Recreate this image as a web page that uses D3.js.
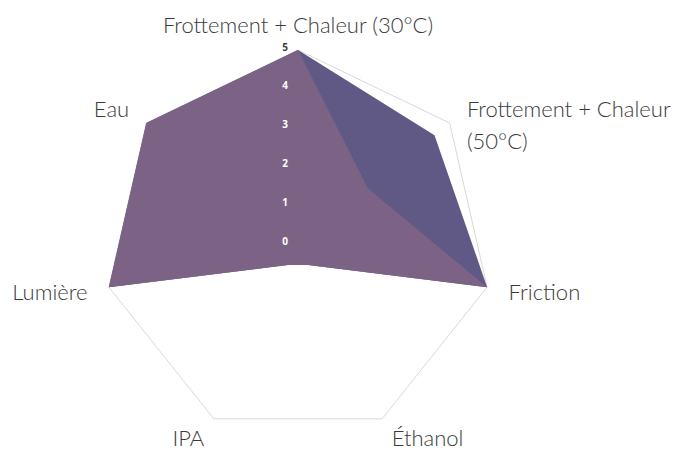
<!DOCTYPE html>
<html>
<head>
<meta charset="utf-8">
<script src="https://cdn.jsdelivr.net/npm/d3@7"></script>
<style>
  body { margin: 0; background: #fff; }
  svg { display: block; }
</style>
</head>
<body>
<div id="chart"></div>
<script>
// Radar chart: two filled series on seven axes, scale 0-5

// Data
var categories = ["Frottement + Chaleur (30°C)", "Frottement + Chaleur (50°C)", "Friction", "Éthanol", "IPA", "Lumière", "Eau"];
var seriesNames = ["Série 1", "Série 2"];
var seriesBlue = [5, 4.5, 5, 0.6, 0.6, 5, 5];
var seriesPurple = [5, 2.3, 5, 0.6, 0.6, 5, 5];
var tickValues = [0, 1, 2, 3, 4, 5];

// Colors
var colors = ["#605985", "#7c6385"];

var width = 690, height = 462;
var cx = 298, cy = 244, radius = 194;

var svg = d3.select("#chart").append("svg")
    .attr("width", width)
    .attr("height", height)
    .append("g")
    .attr("transform", "translate(" + cx + "," + cy + ")");

// Scales
var r = d3.scaleLinear().domain([0, 5]).range([0, radius]);
var angle = d3.scalePoint()
    .domain(categories)
    .range([0, 2 * Math.PI * (categories.length - 1) / categories.length]);

function point(cat, v) {
    var a = angle(cat) - Math.PI / 2;
    return [Math.cos(a) * r(v), Math.sin(a) * r(v)];
}

var radarLine = d3.line().curve(d3.curveLinearClosed);

// Outer gridline only
svg.append("path")
    .attr("d", radarLine(categories.map(function (c) { return point(c, 5); })))
    .attr("fill", "none")
    .attr("stroke", "#d9d9d9")
    .attr("stroke-width", 1);

// Series areas
var series = [seriesBlue, seriesPurple];
svg.selectAll(".area")
    .data(series)
    .enter().append("path")
    .attr("class", "area")
    .attr("d", function (d) {
        return radarLine(categories.map(function (c, i) { return point(c, d[i]); }));
    })
    .attr("fill", function (d, i) { return colors[i]; })
    .attr("stroke", "none");

// Tick labels along the top axis
svg.selectAll(".tick-label")
    .data(tickValues)
    .enter().append("text")
    .attr("class", "tick-label")
    .attr("x", -13)
    .attr("y", function (d) { return -r(d) - 3; })
    .attr("dy", "0.35em")
    .attr("text-anchor", "middle")
    .attr("font-family", "'Open Sans', sans-serif")
    .attr("font-weight", "bold")
    .attr("font-size", "10px")
    .attr("fill", function (d) { return d === 5 ? "#404040" : "#ffffff"; })
    .text(function (d) { return d; });

// Category labels
var pad = 22;
var labels = svg.selectAll(".cat-label")
    .data(categories)
    .enter().append("text")
    .attr("class", "cat-label")
    .attr("font-family", "Lato, sans-serif")
    .attr("font-weight", 300)
    .attr("font-size", "22px")
    .attr("fill", "#3a3a3a")
    .attr("text-anchor", function (c) {
        var cos = Math.cos(angle(c) - Math.PI / 2);
        return Math.abs(cos) < 0.05 ? "middle" : (cos > 0 ? "start" : "end");
    })
    .attr("transform", function (c) {
        var a = angle(c) - Math.PI / 2;
        var extra = Math.abs(Math.cos(a)) < 0.05 ? 3 : 0; // top label sits a bit higher
        return "translate(" + Math.cos(a) * (radius + pad + extra) + "," + Math.sin(a) * (radius + pad + extra) + ")";
    });

labels.each(function (c) {
    var t = d3.select(this);
    // the upper right label wraps onto two lines
    var lines = (c === "Frottement + Chaleur (50°C)") ? ["Frottement + Chaleur", "(50°C)"] : [c];
    lines.forEach(function (l, i) {
        t.append("tspan")
            .attr("x", 0)
            .attr("dy", i === 0 ? "0.35em" : "1.45em")
            .text(l);
    });
});
</script>
</body>
</html>
